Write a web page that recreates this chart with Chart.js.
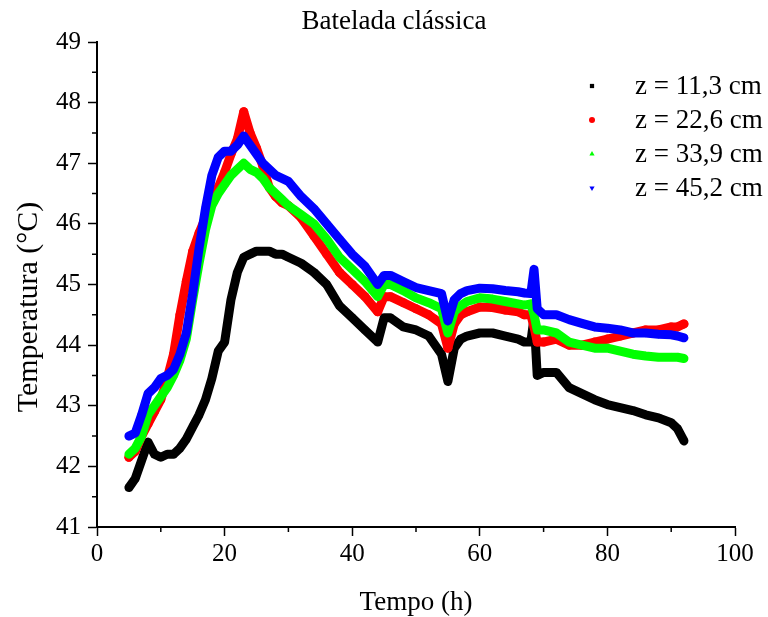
<!DOCTYPE html>
<html>
<head>
<meta charset="utf-8">
<script src="https://cdn.jsdelivr.net/npm/chart.js@4.4.0/dist/chart.umd.min.js"></script>
<style>
html, body { margin: 0; padding: 0; background: #fff; }
</style>
</head>
<body>
<canvas id="grafico" width="768" height="617"></canvas>
<script>
// tempo (h)
const tempo = [5,6,7,8,9,10,11,12,13,14,15,16,17,18,19,20,21,22,23,24,25,26,27,28,29,30,
  32,34,36,38,40,42,44,45,46,48,50,52,54,55,56,57,58,60,62,64,66,67,68,68.5,69,70,
  72,74,76,78,80,82,84,86,88,90,91,92];

// temperaturas (°C) por altura
const z113 = [41.65,41.8,42.1,42.4,42.2,42.15,42.2,42.2,42.3,42.45,42.65,42.85,43.1,43.45,43.9,44.05,44.75,45.2,45.45,45.5,45.55,45.55,45.55,45.5,45.5,45.45,
  45.35,45.2,45.0,44.65,44.45,44.25,44.05,44.45,44.45,44.3,44.25,44.15,43.85,43.4,43.95,44.1,44.15,44.2,44.2,44.15,44.1,44.05,44.05,44.45,43.5,43.55,
  43.55,43.3,43.2,43.1,43.02,42.97,42.92,42.85,42.8,42.72,42.62,42.42];
const z226 = [42.15,42.25,42.5,42.7,42.9,43.1,43.45,43.85,44.5,45.05,45.55,45.85,46.1,46.4,46.6,46.85,47.15,47.4,47.85,47.5,47.25,46.95,46.6,46.45,46.35,46.3,
  46.1,45.8,45.5,45.2,45.0,44.8,44.55,44.8,44.8,44.7,44.6,44.5,44.35,43.95,44.35,44.5,44.55,44.63,44.62,44.58,44.55,44.5,44.5,44.3,44.05,44.05,
  44.1,44.0,44.0,44.05,44.1,44.15,44.2,44.25,44.25,44.3,44.3,44.35];
const z339 = [42.2,42.3,42.5,42.85,43.0,43.15,43.3,43.5,43.75,44.1,44.75,45.35,45.9,46.3,46.5,46.65,46.8,46.9,47.0,46.9,46.85,46.75,46.6,46.5,46.4,46.3,
  46.15,46.0,45.75,45.45,45.25,45.05,44.8,45.0,45.0,44.9,44.78,44.7,44.6,44.2,44.55,44.65,44.72,44.78,44.76,44.72,44.68,44.66,44.68,44.5,44.25,44.25,
  44.2,44.05,44.0,43.95,43.95,43.9,43.85,43.82,43.8,43.8,43.8,43.78];
const z452 = [42.5,42.55,42.85,43.2,43.3,43.45,43.5,43.6,43.85,44.2,44.85,45.6,46.25,46.8,47.1,47.2,47.2,47.3,47.45,47.3,47.15,47.0,46.9,46.8,46.75,46.7,
  46.45,46.25,46.0,45.75,45.5,45.3,45.0,45.15,45.15,45.05,44.95,44.9,44.85,44.4,44.75,44.85,44.9,44.94,44.93,44.9,44.88,44.86,44.85,45.25,44.6,44.5,
  44.5,44.42,44.36,44.3,44.28,44.25,44.2,44.2,44.18,44.17,44.15,44.12];

const rotulos = ["z = 11,3 cm", "z = 22,6 cm", "z = 33,9 cm", "z = 45,2 cm"];
const cores = ["#000000", "#ff0000", "#00ff00", "#0000ff"];
const ticksX = [0, 20, 40, 60, 80, 100];
const ticksY = [41, 42, 43, 44, 45, 46, 47, 48, 49];
const minorX = [10, 30, 50, 70, 90];
const minorY = [41.5, 42.5, 43.5, 44.5, 45.5, 46.5, 47.5, 48.5];

const fonte = "'Liberation Serif', 'Times New Roman', serif";

function serie(valores) {
  return tempo.map((t, i) => ({ x: t, y: valores[i] }));
}

function dataset(i, valores, estilo, rot) {
  return {
    label: rotulos[i],
    data: serie(valores),
    showLine: true,
    borderColor: cores[i],
    backgroundColor: cores[i],
    borderWidth: 9,
    borderJoinStyle: "round",
    borderCapStyle: "round",
    pointStyle: estilo,
    rotation: rot,
    pointRadius: 4.5,
    pointBorderWidth: 0,
    order: 3 - i
  };
}

// titulo, titulo do eixo y, legenda e ticks menores
const extras = {
  id: "extras",
  afterDraw(chart) {
    const ctx = chart.ctx;
    const sx = chart.scales.x, sy = chart.scales.y;
    ctx.save();
    ctx.fillStyle = "#000";
    ctx.font = "27px " + fonte;
    ctx.textAlign = "center";
    ctx.textBaseline = "middle";
    ctx.fillText("Batelada clássica", 394, 22);

    ctx.save();
    ctx.translate(29, 307);
    ctx.rotate(-Math.PI / 2);
    ctx.font = "30px " + fonte;
    ctx.fillText("Temperatura (°C)", 0, 0);
    ctx.restore();

    ctx.strokeStyle = "#000";
    ctx.lineWidth = 1.5;
    ctx.beginPath();
    minorX.forEach(v => {
      const px = sx.getPixelForValue(v);
      ctx.moveTo(px, sx.top);
      ctx.lineTo(px, sx.top + 5);
    });
    minorY.forEach(v => {
      const py = sy.getPixelForValue(v);
      ctx.moveTo(sy.right, py);
      ctx.lineTo(sy.right - 5, py);
    });
    ctx.stroke();

    ctx.font = "27px " + fonte;
    ctx.textAlign = "left";
    chart.data.datasets.forEach((ds, i) => {
      const y = 86 + 34 * i;
      ctx.fillStyle = ds.backgroundColor;
      Chart.helpers.drawPoint(ctx, { pointStyle: ds.pointStyle, rotation: ds.rotation, radius: 3, borderWidth: 0 }, 592, y);
      ctx.fillStyle = "#000";
      ctx.fillText(ds.label, 635, y + 1);
    });
    ctx.restore();
  }
};

new Chart(document.getElementById("grafico"), {
  type: "scatter",
  data: {
    datasets: [
      dataset(0, z113, "rect", 0),
      dataset(1, z226, "circle", 0),
      dataset(2, z339, "triangle", 0),
      dataset(3, z452, "triangle", 180)
    ]
  },
  options: {
    responsive: false,
    animation: false,
    layout: { padding: { top: 42, right: 33, bottom: 0, left: 0 } },
    plugins: {
      legend: { display: false },
      tooltip: { enabled: false }
    },
    scales: {
      x: {
        type: "linear",
        min: 0,
        max: 100,
        afterBuildTicks: s => { s.ticks = ticksX.map(v => ({ value: v })); },
        afterFit: s => { s.height = 90; },
        grid: { drawOnChartArea: false, tickLength: 9, tickColor: "#000", tickWidth: 1.5 },
        border: { color: "#000", width: 2 },
        ticks: { color: "#000", font: { family: fonte, size: 25 }, padding: 3, maxRotation: 0 },
        title: { display: true, text: "Tempo (h)", color: "#000", font: { family: fonte, size: 27 }, padding: { top: 0, bottom: -2 } }
      },
      y: {
        type: "linear",
        min: 41,
        max: 49,
        afterBuildTicks: s => { s.ticks = ticksY.map(v => ({ value: v })); },
        afterFit: s => { s.width = 97; },
        grid: { drawOnChartArea: false, tickLength: 9, tickColor: "#000", tickWidth: 1.5 },
        border: { color: "#000", width: 2 },
        ticks: { color: "#000", font: { family: fonte, size: 25 }, padding: 7 }
      }
    }
  },
  plugins: [extras]
});
</script>
</body>
</html>
